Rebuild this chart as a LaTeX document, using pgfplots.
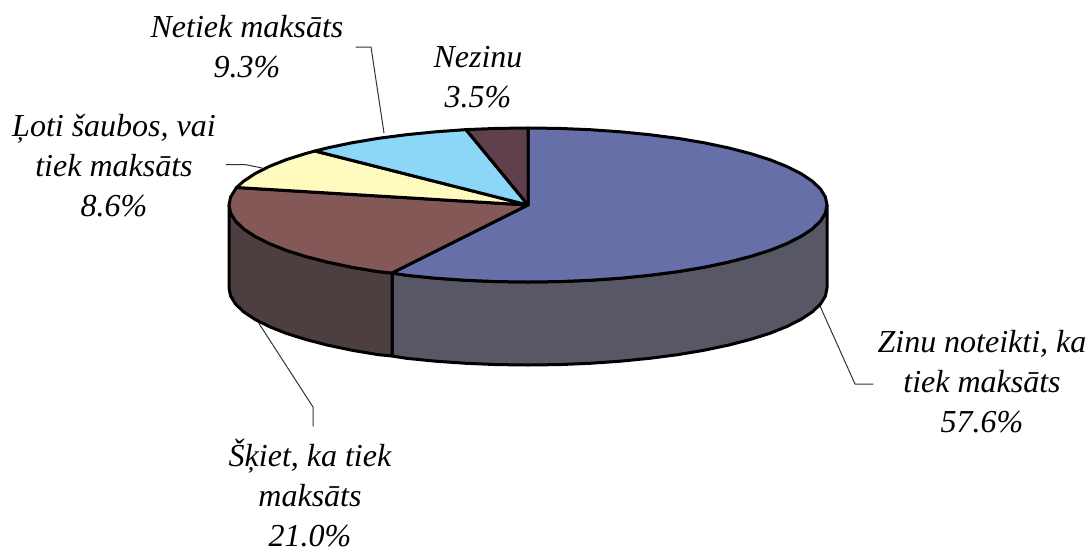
\documentclass[border=0pt]{standalone}
\usepackage{pgfplots}
\pgfplotsset{compat=1.18}
\usepackage{fontspec}
\setmainfont{Liberation Serif}
\definecolor{cA}{HTML}{666FA8}
\definecolor{cAs}{HTML}{575766}
\definecolor{cB}{HTML}{855858}
\definecolor{cBs}{HTML}{4D3F3F}
\definecolor{cC}{HTML}{FFFABE}
\definecolor{cD}{HTML}{8CD6F8}
\definecolor{cE}{HTML}{5F404C}
\tikzset{lab/.style={font=\fontsize{32}{40}\selectfont\itshape, align=center, inner sep=0pt}}
\begin{document}
\begin{tikzpicture}[x=1pt,y=1pt]
\path[use as bounding box] (0,0) rectangle (1090,547);
\begin{axis}[
  scale only axis, width=1090pt, height=547pt,
  xmin=0, xmax=1090, ymin=0, ymax=547, y dir=reverse,
  hide axis, clip=false, no markers,
  anchor=south west, at={(0,0)},
  every axis plot/.append style={line join=round, line cap=round}
]
% leader lines
\addplot[black!80, line width=1pt] coordinates {(384,133) (371,47) (356,47)};
\addplot[black!80, line width=1pt] coordinates {(262,168) (245,164.5) (226,164.5)};
\addplot[black!80, line width=1pt] coordinates {(258,322) (313,407) (313,426)};
\addplot[black!80, line width=1pt] coordinates {(820,306) (855,384) (873,384)};
% side faces
\addplot[fill=cAs, draw=black, line width=3pt] coordinates {
(827,205) (825.4,213) (820.5,221) (812.4,228.8) (801.1,236.3) (786.9,243.5) (769.9,250.3) (750.2,256.5) (728.1,262.2) (703.8,267.3) (677.5,271.7) (649.6,275.3) (620.4,278.2) (590.2,280.3) (559.2,281.6) (528,282) (496.8,281.6) (465.8,280.3) (435.6,278.2) (406.4,275.3) (392,273)
(392,356) (406.4,358.3) (435.6,361.2) (465.8,363.3) (496.8,364.6) (528,365) (559.2,364.6) (590.2,363.3) (620.4,361.2) (649.6,358.3) (677.5,354.7) (703.8,350.3) (728.1,345.2) (750.2,339.5) (769.9,333.3) (786.9,326.5) (801.1,319.3) (812.4,311.8) (820.5,304) (825.4,296) (827,288)
} -- cycle;
\addplot[fill=cBs, draw=black, line width=3pt] coordinates {
(392,273) (378.5,271.7) (352.2,267.3) (327.9,262.2) (305.8,256.5) (286.1,250.3) (269.1,243.5) (254.9,236.3) (243.6,228.8) (235.5,221) (230.6,213) (229,205)
(229,288) (230.6,296) (235.5,304) (243.6,311.8) (254.9,319.3) (269.1,326.5) (286.1,333.3) (305.8,339.5) (327.9,345.2) (352.2,350.3) (378.5,354.7) (392,356)
} -- cycle;
% top slices
\addplot[fill=cA, draw=black, line width=3pt] coordinates {
(528,205) (528,128) (559.2,128.4) (590.2,129.7) (620.4,131.8) (649.6,134.7) (677.5,138.3) (703.8,142.7) (728.1,147.8) (750.2,153.5) (769.9,159.7) (786.9,166.5) (801.1,173.7) (812.4,181.2) (820.5,189) (825.4,197) (827,205) (825.4,213) (820.5,221) (812.4,228.8) (801.1,236.3) (786.9,243.5) (769.9,250.3) (750.2,256.5) (728.1,262.2) (703.8,267.3) (677.5,271.7) (649.6,275.3) (620.4,278.2) (590.2,280.3) (559.2,281.6) (528,282) (496.8,281.6) (465.8,280.3) (435.6,278.2) (406.4,275.3) (392,273)
} -- cycle;
\addplot[fill=cB, draw=black, line width=3pt] coordinates {
(528,205) (392,273) (378.5,271.7) (352.2,267.3) (327.9,262.2) (305.8,256.5) (286.1,250.3) (269.1,243.5) (254.9,236.3) (243.6,228.8) (235.5,221) (230.6,213) (229,205) (230.6,197) (236.5,187.5)
} -- cycle;
\addplot[fill=cC, draw=black, line width=3pt] coordinates {
(528,205) (236.5,187.5) (243.6,181.2) (254.9,173.7) (269.1,166.5) (286.1,159.7) (305.8,153.5) (315,151)
} -- cycle;
\addplot[fill=cD, draw=black, line width=3pt] coordinates {
(528,205) (315,151) (327.9,147.8) (352.2,142.7) (378.5,138.3) (406.4,134.7) (435.6,131.8) (466,129.6)
} -- cycle;
\addplot[fill=cE, draw=black, line width=3pt] coordinates {
(528,205) (466,129.6) (496.8,128.4) (528,128)
} -- cycle;
% labels
\node[lab] at (axis cs:247,46.5) {Netiek maksāts\\9.3\%};
\node[lab] at (axis cs:478,77) {Nezinu\\3.5\%};
\node[lab] at (axis cs:114,166) {Ļoti šaubos, vai\\tiek maksāts\\8.6\%};
\node[lab] at (axis cs:982,382) {Zinu noteikti, ka\\tiek maksāts\\57.6\%};
\node[lab] at (axis cs:310,493) {Šķiet, ka tiek\\maksāts\\21.0\%};
\end{axis}
\end{tikzpicture}
\end{document}
